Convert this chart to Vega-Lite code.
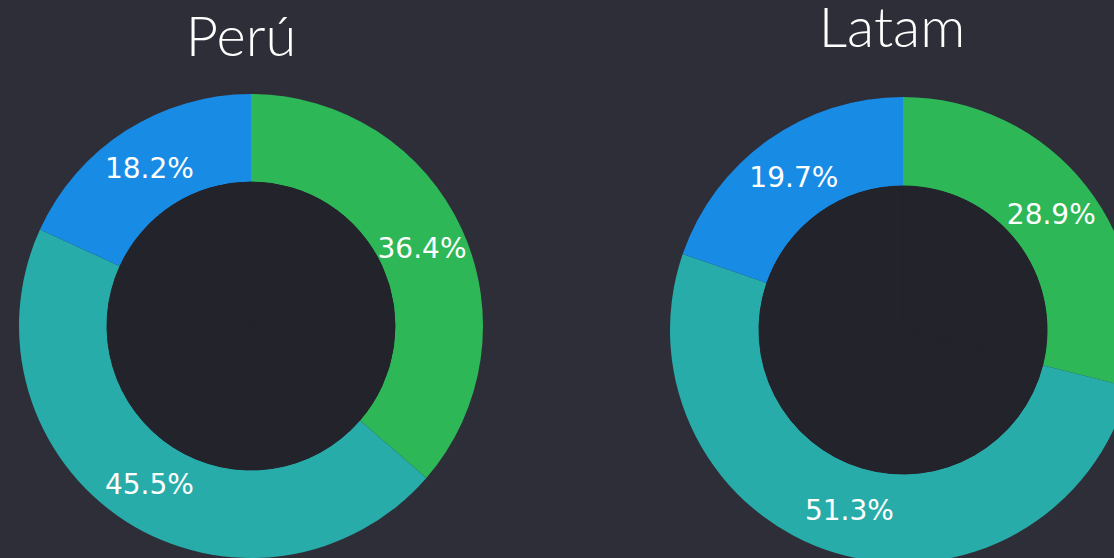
{
  "$schema": "https://vega.github.io/schema/vega-lite/v6.json",
  "background": "#2e2e38",
  "padding": {"top": 2, "left": 0, "right": 0, "bottom": 0},
  "bounds": "flush",
  "spacing": 190,
  "config": {"view": {"stroke": null}},
  "datasets": {
    "peru": [
      {"segmento": "A", "orden": 1, "valor": 36.4, "etiqueta": "36.4%"},
      {"segmento": "B", "orden": 2, "valor": 45.5, "etiqueta": "45.5%"},
      {"segmento": "C", "orden": 3, "valor": 18.2, "etiqueta": "18.2%"}
    ],
    "latam": [
      {"segmento": "A", "orden": 1, "valor": 28.9, "etiqueta": "28.9%"},
      {"segmento": "B", "orden": 2, "valor": 51.3, "etiqueta": "51.3%"},
      {"segmento": "C", "orden": 3, "valor": 19.7, "etiqueta": "19.7%"}
    ]
  },
  "hconcat": [
    {
      "width": 502,
      "height": 460,
      "title": {"text": "Perú", "fontSize": 56, "font": "Lato", "fontWeight": 300, "color": "#ffffff", "offset": -18, "baseline": "alphabetic", "dx": -10, "anchor": "middle"},
      "layer": [
        {
          "data": {"name": "peru"},
          "mark": {"type": "arc", "outerRadius": 232, "innerRadius": 144},
          "encoding": {
            "theta": {"field": "valor", "type": "quantitative", "stack": true},
            "order": {"field": "orden", "type": "quantitative"},
            "color": {"field": "segmento", "type": "nominal", "scale": {"domain": ["A", "B", "C"], "range": ["#2db757", "#27acaa", "#188ce5"]}, "legend": null}
          }
        },
        {
          "data": {"name": "peru"},
          "mark": {"type": "arc", "outerRadius": 144, "innerRadius": 0, "fill": "#23232b", "stroke": "#23232b", "strokeWidth": 1},
          "encoding": {
            "theta": {"field": "valor", "type": "quantitative", "stack": true},
            "order": {"field": "orden", "type": "quantitative"}
          }
        },
        {
          "data": {"name": "peru"},
          "mark": {"type": "text", "radius": 188, "dy": 2, "font": "DejaVu Sans", "fontSize": 28, "fill": "#ffffff"},
          "encoding": {
            "theta": {"field": "valor", "type": "quantitative", "stack": true},
            "order": {"field": "orden", "type": "quantitative"},
            "text": {"field": "etiqueta", "type": "nominal"}
          }
        }
      ]
    },
    {
      "width": 422,
      "height": 468,
      "title": {"text": "Latam", "fontSize": 56, "font": "Lato", "fontWeight": 300, "color": "#ffffff", "offset": -7, "baseline": "alphabetic", "dx": -11, "anchor": "middle"},
      "layer": [
        {
          "data": {"name": "latam"},
          "mark": {"type": "arc", "outerRadius": 233, "innerRadius": 144},
          "encoding": {
            "theta": {"field": "valor", "type": "quantitative", "stack": true},
            "order": {"field": "orden", "type": "quantitative"},
            "color": {"field": "segmento", "type": "nominal", "scale": {"domain": ["A", "B", "C"], "range": ["#2db757", "#27acaa", "#188ce5"]}, "legend": null}
          }
        },
        {
          "data": {"name": "latam"},
          "mark": {"type": "arc", "outerRadius": 144, "innerRadius": 0, "fill": "#23232b", "stroke": "#23232b", "strokeWidth": 1},
          "encoding": {
            "theta": {"field": "valor", "type": "quantitative", "stack": true},
            "order": {"field": "orden", "type": "quantitative"}
          }
        },
        {
          "data": {"name": "latam"},
          "mark": {"type": "text", "radius": 188, "dy": 2, "font": "DejaVu Sans", "fontSize": 28, "fill": "#ffffff"},
          "encoding": {
            "theta": {"field": "valor", "type": "quantitative", "stack": true},
            "order": {"field": "orden", "type": "quantitative"},
            "text": {"field": "etiqueta", "type": "nominal"}
          }
        }
      ]
    }
  ]
}
